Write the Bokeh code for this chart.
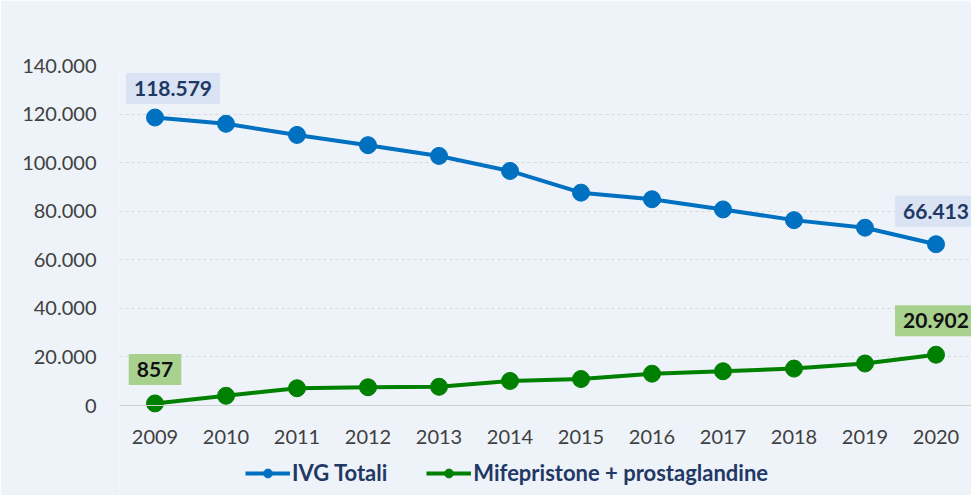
from bokeh.plotting import figure
from bokeh.models import Legend, LegendItem, Label, FixedTicker, Range1d
from bokeh.embed import file_html
from bokeh.resources import INLINE

years = [2009, 2010, 2011, 2012, 2013, 2014, 2015, 2016, 2017, 2018, 2019, 2020]
ivg_totali = [118579, 115981, 111415, 107192, 102760, 96578, 87639, 84926, 80733, 76328, 73207, 66413]
mifepristone = [857, 4000, 7100, 7500, 7700, 10100, 10900, 13100, 14100, 15200, 17300, 20902]
y_ticks = [0, 20000, 40000, 60000, 80000, 100000, 120000, 140000]
y_tick_labels = ["0", "20.000", "40.000", "60.000", "80.000", "100.000", "120.000", "140.000"]
series_names = ["IVG Totali", "Mifepristone + prostaglandine"]

BG = "#eef2f9"
BLUE = "#0070c0"
GREEN = "#008000"
FONT = "Lato"

# frame: 340 px for 0..140000, plus 90 px of room below zero for axis labels and legend
y_top = y_ticks[-1]
y_bottom = -y_top * 90 / 340

p = figure(width=971, height=495, output_backend="svg", toolbar_location=None,
           x_range=Range1d(years[0] - 0.5, years[-1] + 0.5),
           y_range=Range1d(y_bottom, y_top),
           min_border_left=119, min_border_right=0, min_border_top=65, min_border_bottom=0)
p.background_fill_color = BG
p.border_fill_color = BG
p.outline_line_color = None

p.xgrid.grid_line_color = None
p.ygrid.grid_line_color = "#d9d9d9"
p.ygrid.grid_line_dash = "3 3"
p.ygrid.grid_line_width = 1

p.yaxis.ticker = FixedTicker(ticks=y_ticks)
p.yaxis.major_label_overrides = {t: l for t, l in zip(y_ticks, y_tick_labels)}
p.xaxis.ticker = FixedTicker(ticks=years)
p.xaxis.major_label_overrides = {y: str(y) for y in years}
p.xaxis.fixed_location = 0
for ax in (p.xaxis, p.yaxis):
    ax.major_tick_line_color = None
    ax.minor_tick_line_color = None
    ax.major_label_text_font = FONT
    ax.major_label_text_font_size = "20px"
    ax.major_label_text_color = "#404040"
p.yaxis.axis_line_color = None
p.yaxis.major_label_standoff = 17
p.xaxis.axis_line_color = "#d0d0d0"
p.xaxis.axis_line_width = 1
p.xaxis.major_label_standoff = 18

l1 = p.line(years, ivg_totali, line_color=BLUE, line_width=4)
c1 = p.scatter(years, ivg_totali, size=17, fill_color=BLUE, line_color=BLUE)
l2 = p.line(years, mifepristone, line_color=GREEN, line_width=4)
c2 = p.scatter(years, mifepristone, size=17, fill_color=GREEN, line_color=GREEN)

def add_label(x, y, txt, color, bg, xo, yo):
    p.add_layout(Label(x=x, y=y, text=txt, x_offset=xo, y_offset=yo,
                       text_align="center", text_baseline="middle",
                       text_font=FONT, text_font_style="bold", text_font_size="21px",
                       text_color=color, background_fill_color=bg, padding=8))

add_label(years[0], ivg_totali[0], f"{ivg_totali[0]:,}".replace(",", "."), "#1f3864", "#dae3f3", 18, 29)
add_label(years[-1], ivg_totali[-1], f"{ivg_totali[-1]:,}".replace(",", "."), "#1f3864", "#dae3f3", 0, 33)
add_label(years[0], mifepristone[0], f"{mifepristone[0]:,}".replace(",", "."), "#111111", "#a9d18e", 0, 34)
add_label(years[-1], mifepristone[-1], f"{mifepristone[-1]:,}".replace(",", "."), "#111111", "#a9d18e", 0, 34)

legend = Legend(items=[LegendItem(label=series_names[0], renderers=[l1, c1]),
                       LegendItem(label=series_names[1], renderers=[l2, c2])],
                orientation="horizontal", location=(126, 9))
legend.background_fill_alpha = 0
legend.border_line_color = None
legend.label_text_font = FONT
legend.label_text_font_style = "bold"
legend.label_text_font_size = "22px"
legend.label_text_color = "#1f3864"
legend.glyph_width = 45
legend.glyph_height = 22
legend.spacing = 39
legend.label_standoff = 2
legend.padding = 0
legend.margin = 0
p.add_layout(legend)

open("out.html", "w").write(file_html(p, INLINE))
